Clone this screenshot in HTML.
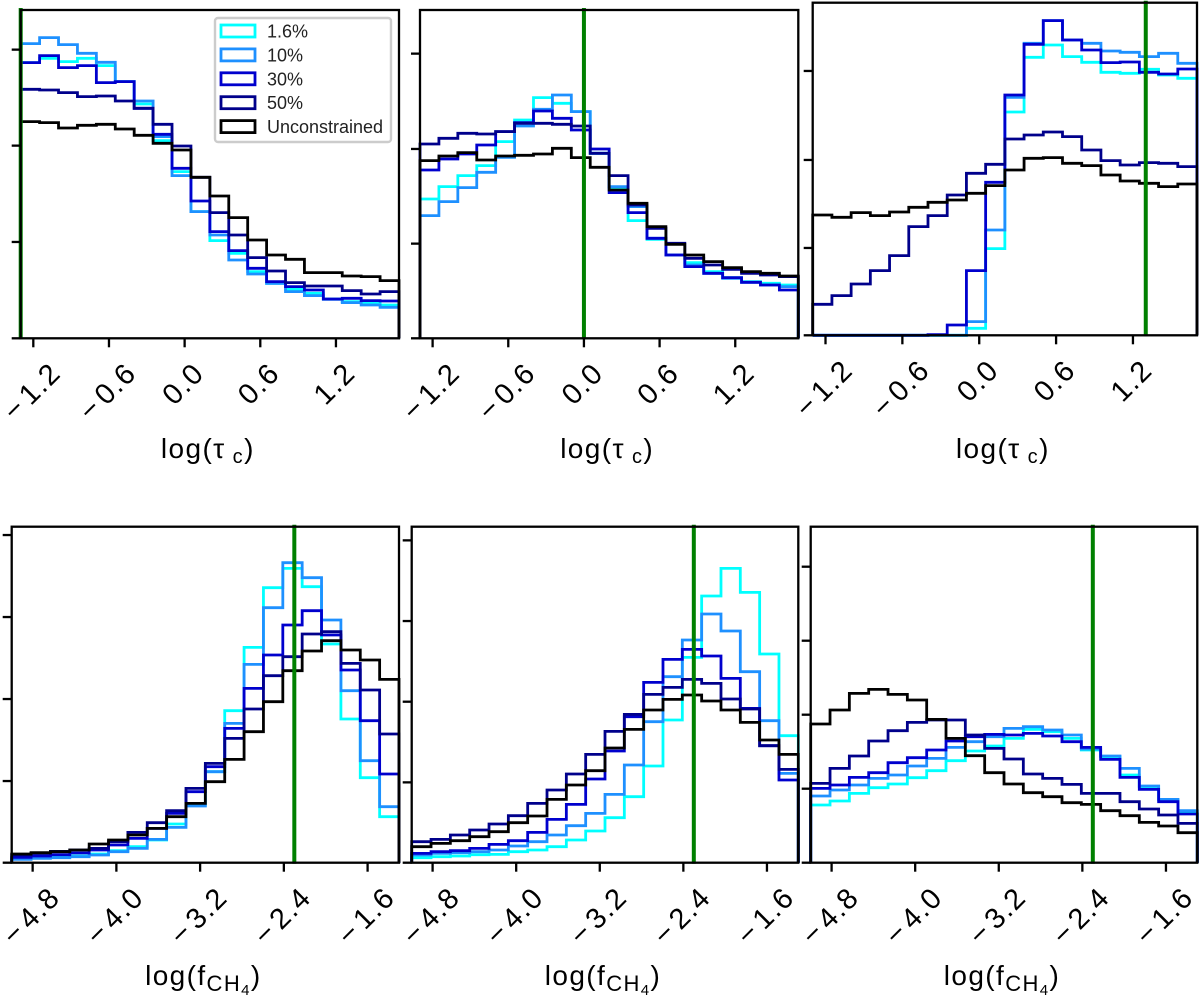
<!DOCTYPE html>
<html lang="en">
<head>
<meta charset="utf-8">
<title>Posterior histograms of log(tau c) and log(f CH4)</title>
<style>
html,body{margin:0;padding:0;background:#fff;}
svg{display:block;font-family:"Liberation Sans",Arial,sans-serif;filter:blur(0.35px);}
</style>
</head>
<body>
<svg id="chart" xmlns="http://www.w3.org/2000/svg" width="1200" height="999" viewBox="0 0 1200 999"></svg>
<script>
const seriesNames = ["1.6%", "10%", "30%", "50%", "Unconstrained"];
const seriesColors = ["#00ffff", "#1e90ff", "#0000cd", "#00008b", "#000000"];

const tauTicks = [-1.2, -0.6, 0, 0.6, 1.2];
const tauTickLabels = ["\u2212\u200A1.2", "\u2212\u200A0.6", "0.0", "0.6", "1.2"];
const ch4Ticks = [-4.8, -4.0, -3.2, -2.4, -1.6];
const ch4TickLabels = ["\u2212\u200A4.8", "\u2212\u200A4.0", "\u2212\u200A3.2", "\u2212\u200A2.4", "\u2212\u200A1.6"];

const tauRange = [-1.3, 1.7];
const ch4Range = [-5.0, -1.3];

const trueValues = [-1.3, 0.0, 1.3, -2.3, -2.3, -2.3];

const yTicks1 = [0, 289, 578, 866];
const yTicks2 = [0, 284, 568, 854];
const yTicks3 = [0, 262, 526, 793];
const yTicks4 = [0, 245, 491, 737, 983];
const yTicks5 = [0, 241, 483, 725, 967];
const yTicks6 = [0, 222, 444, 666, 888];

const p1Cyan = [827,840,830,840,818,770,703,593,500,380,293,255,200,165,147,135,118,110,105,100];
const p1Dodger = [884,902,881,855,828,770,712,605,488,380,310,235,193,165,140,128,117,107,100,93];
const p1Medium = [827,848,812,818,767,770,690,612,510,412,320,263,210,170,155,145,118,120,113,112];
const p1Dark = [747,745,737,725,727,712,690,642,577,483,377,310,242,202,167,157,157,143,133,140];
const p1Black = [650,647,631,639,642,628,609,585,565,483,427,362,295,250,237,197,197,187,185,173];

const p2Cyan = [418,455,488,518,590,655,722,705,680,555,453,353,297,250,227,200,182,170,165,160];
const p2Dodger = [368,410,452,498,543,637,687,730,680,555,455,395,300,250,220,195,180,168,160,155];
const p2Medium = [505,538,553,580,620,647,682,660,625,568,437,377,300,250,215,195,182,168,160,145];
const p2Dark = [583,600,615,613,620,645,645,642,637,555,488,400,330,285,240,220,207,195,190,185];
const p2Black = [533,547,557,535,547,549,553,570,542,513,445,405,335,282,250,230,212,200,195,187];

const p3Cyan = [0,0,0,0,0,0,0,0,21,260,670,834,871,836,819,789,786,798,781,771];
const p3Dodger = [0,0,0,0,0,0,0,0,41,316,714,876,944,886,876,853,849,836,846,816];
const p3Medium = [0,0,0,0,0,0,2,31,194,459,721,873,944,886,856,818,820,789,784,799];
const p3Dark = [93,119,154,194,239,326,359,421,486,513,589,601,610,596,556,524,511,518,516,506];
const p3Black = [361,354,368,359,370,384,399,406,426,449,496,531,533,516,509,481,463,456,446,454];

const p4Cyan = [13,15,17,20,26,36,48,68,116,173,273,456,646,825,883,828,656,431,255,138];
const p4Dodger = [10,13,15,18,23,33,43,70,106,170,273,418,595,765,900,855,728,516,306,168];
const p4Medium = [16,20,24,29,38,53,73,103,148,213,288,403,523,623,713,756,683,578,426,266];
const p4Dark = [23,28,34,38,43,63,91,120,156,223,298,373,461,561,618,686,693,598,518,386];
const p4Black = [26,30,33,38,56,68,83,103,138,178,243,310,393,483,576,635,666,638,608,550];

const p5Cyan = [15,18,20,24,25,33,38,48,68,95,135,198,290,428,616,800,883,811,626,381];
const p5Dodger = [23,28,30,33,38,50,63,83,111,148,205,293,423,558,668,746,695,573,426,268];
const p5Medium = [28,33,36,43,55,66,91,130,175,251,335,438,541,610,640,620,553,463,351,248];
const p5Dark = [63,70,83,98,116,141,178,218,266,325,394,445,505,526,550,538,491,461,351,280];
const p5Black = [48,58,66,78,93,120,140,190,233,276,344,400,458,490,503,485,458,421,368,325];

const p6Cyan = [173,185,208,225,236,255,276,306,335,350,373,400,393,373,338,318,263,228,188,153];
const p6Dodger = [200,218,233,253,263,290,313,346,363,378,403,408,398,383,341,320,283,230,190,156];
const p6Medium = [223,233,256,270,300,315,338,365,378,385,383,388,380,363,346,310,256,220,183,146];
const p6Dark = [238,283,320,365,396,421,428,428,383,343,311,266,253,235,208,208,183,161,143,118];
const p6Black = [416,458,508,520,505,488,430,373,321,270,236,210,198,180,175,156,141,121,110,90];

const NS = "http://www.w3.org/2000/svg";
const root = document.getElementById("chart");

function mk(tag, attrs, parent) {
  const el = document.createElementNS(NS, tag);
  for (const k in attrs) el.setAttribute(k, attrs[k]);
  (parent || root).appendChild(el);
  return el;
}

function drawPanel(cfg, idx) {
  const left = cfg.box[0], right = cfg.box[1], top = cfg.box[2], bottom = cfg.box[3];
  const yMax = (bottom - top) * 3;
  const x = v => left + (v - cfg.xRange[0]) / (cfg.xRange[1] - cfg.xRange[0]) * (right - left);
  const y = v => bottom - v / yMax * (bottom - top);

  const g = mk("g", {});
  
  

  cfg.series.forEach((vals, s) => {
    const w = (cfg.xRange[1] - cfg.xRange[0]) / vals.length;
    let d = "M" + x(cfg.xRange[0]).toFixed(2) + " " + y(0).toFixed(2);
    vals.forEach((v, i) => {
      const a = cfg.xRange[0] + i * w, b = a + w;
      d += " L" + x(a).toFixed(2) + " " + y(v).toFixed(2) + " L" + x(b).toFixed(2) + " " + y(v).toFixed(2);
    });
    d += " L" + x(cfg.xRange[1]).toFixed(2) + " " + y(0).toFixed(2);
    const p = mk("path", {d: d, fill: "none", stroke: seriesColors[s], "stroke-width": 2.8, "stroke-linejoin": "miter"}, g);
    
    
  });

  const tx = x(cfg.trueValue);
  const green = mk("line", {x1: tx, x2: tx, y1: top - 2, y2: bottom + 1, stroke: "#008000", "stroke-width": 4}, g);
  
  

  const frame = mk("rect", {x: left, y: top, width: right - left, height: bottom - top, fill: "none", stroke: "#000", "stroke-width": 2.3}, g);
  
  

  cfg.yTicks.forEach(v => {
    const t = mk("line", {x1: left - 9, x2: left, y1: y(v), y2: y(v), stroke: "#000", "stroke-width": 2.3}, g);
    
    
  });

  cfg.xTicks.forEach((v, i) => {
    const t = mk("line", {x1: x(v), x2: x(v), y1: bottom, y2: bottom + 9, stroke: "#000", "stroke-width": 2.3}, g);
    
    
    const lab = mk("text", {"font-size": 29, "letter-spacing": 1.5, "text-anchor": "middle", "dominant-baseline": "central", fill: "#000"}, g);
    
    
    lab.textContent = cfg.xLabels[i];
    const len = lab.getComputedTextLength();
    const half = (len + 20) * 0.7071 / 2;
    const cy = bottom + 23 + half;
    lab.setAttribute("x", x(v) - 1);
    lab.setAttribute("y", cy);
    lab.setAttribute("transform", "rotate(-45 " + (x(v) - 1) + " " + cy + ")");
  });

  const title = mk("text", {x: (left + right) / 2 - 2, y: cfg.labelY, "font-size": 28, "letter-spacing": 1.4, "text-anchor": "middle", fill: "#000"}, g);
  
  
  cfg.title.forEach(part => {
    const ts = mk("tspan", {"font-size": part[1], dy: part[2]}, title);
    ts.textContent = part[0];
  });
}

const tauTitle = [["log(\u03C4", 28, 0], ["\u2009", 28, 0], ["c", 20, 5], [")", 28, -5]];
const ch4Title = [["log(f", 28, 0], ["CH", 22, 6], ["4", 15, 4], [")", 28, -10]];

const panels = [
  {box: [20.7, 399, 10, 338.3], xRange: tauRange, xTicks: tauTicks, xLabels: tauTickLabels, yTicks: yTicks1, trueValue: trueValues[0], labelY: 458, title: tauTitle, series: [p1Cyan, p1Dodger, p1Medium, p1Dark, p1Black]},
  {box: [420, 798.3, 10, 338.3], xRange: tauRange, xTicks: tauTicks, xLabels: tauTickLabels, yTicks: yTicks2, trueValue: trueValues[1], labelY: 458, title: tauTitle, series: [p2Cyan, p2Dodger, p2Medium, p2Dark, p2Black]},
  {box: [812.7, 1197, 2.7, 335.3], xRange: tauRange, xTicks: tauTicks, xLabels: tauTickLabels, yTicks: yTicks3, trueValue: trueValues[2], labelY: 458, title: tauTitle, series: [p3Cyan, p3Dodger, p3Medium, p3Dark, p3Black]},
  {box: [11.7, 399, 526.7, 862.7], xRange: ch4Range, xTicks: ch4Ticks, xLabels: ch4TickLabels, yTicks: yTicks4, trueValue: trueValues[3], labelY: 985, title: ch4Title, series: [p4Cyan, p4Dodger, p4Medium, p4Dark, p4Black]},
  {box: [411.7, 798.3, 526.7, 862.7], xRange: ch4Range, xTicks: ch4Ticks, xLabels: ch4TickLabels, yTicks: yTicks5, trueValue: trueValues[4], labelY: 985, title: ch4Title, series: [p5Cyan, p5Dodger, p5Medium, p5Dark, p5Black]},
  {box: [810.7, 1197.3, 526.7, 862.7], xRange: ch4Range, xTicks: ch4Ticks, xLabels: ch4TickLabels, yTicks: yTicks6, trueValue: trueValues[5], labelY: 985, title: ch4Title, series: [p6Cyan, p6Dodger, p6Medium, p6Dark, p6Black]}
];

panels.forEach(drawPanel);

const legend = mk("g", {});


const legendBox = mk("rect", {x: 215, y: 18, width: 176, height: 124, rx: 3, fill: "#fff", stroke: "#cccccc", "stroke-width": 2.4}, legend);


seriesNames.forEach((name, i) => {
  const cy = 31 + i * 23.9;
  const h = mk("rect", {x: 221, y: cy - 6, width: 34, height: 12, fill: "none", stroke: seriesColors[i], "stroke-width": 2.8}, legend);
  
  
  const t = mk("text", {x: 267, y: cy + 6.5, "font-size": 18, fill: "#222"}, legend);
  
  
  t.textContent = name;
});
</script>
</body>
</html>
